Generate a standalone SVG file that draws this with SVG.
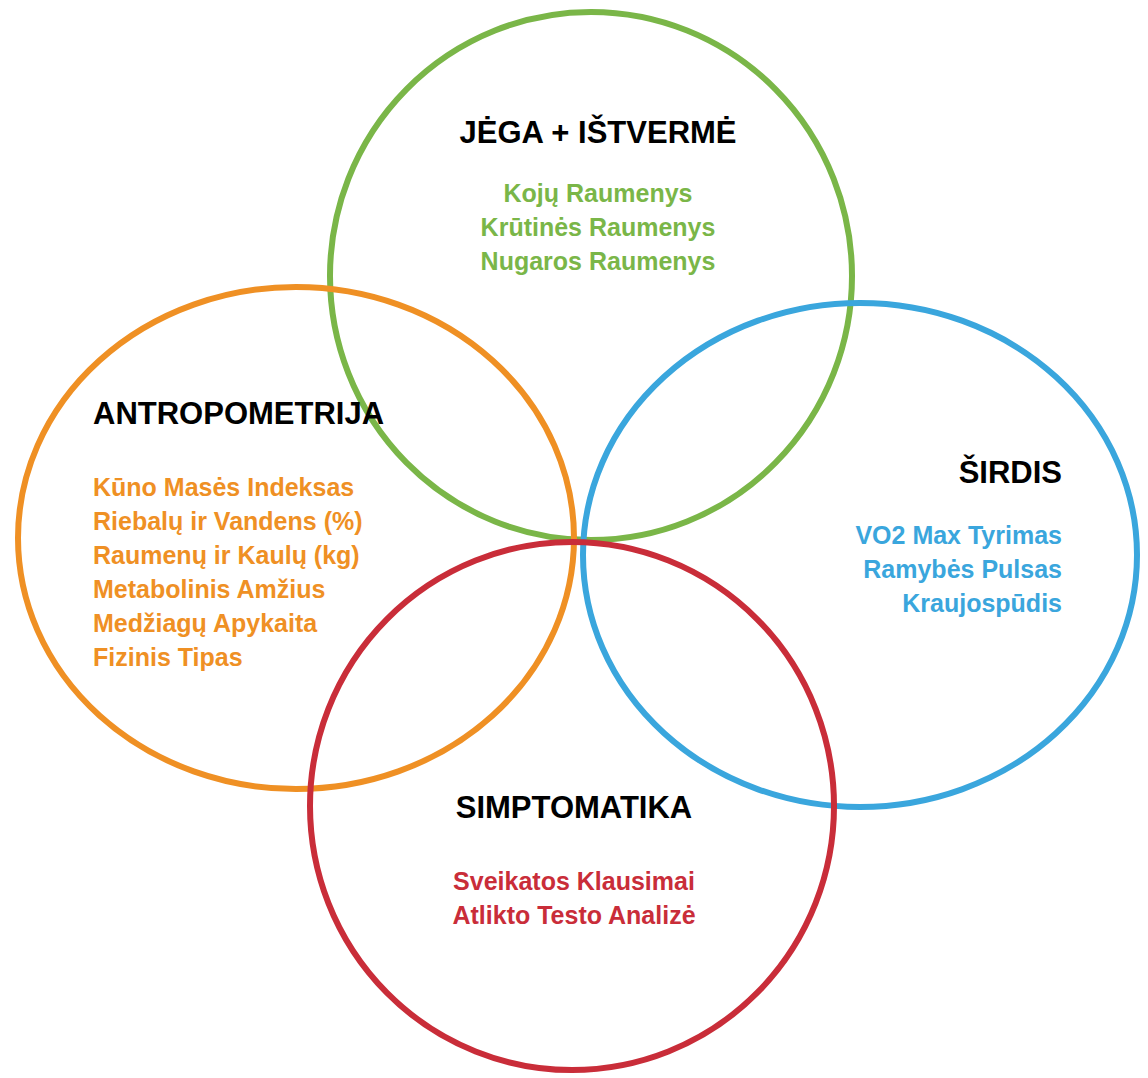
<svg xmlns="http://www.w3.org/2000/svg" width="1148" height="1078" viewBox="0 0 1148 1078">
<style>
.c{fill:none;stroke-width:6}
text{font-family:"Liberation Sans",Arial,sans-serif;font-weight:bold}
.t{font-size:31px;fill:#000}
.i{font-size:25px}
</style>
<rect width="1148" height="1078" fill="#fff"/>
<g id="jega"><ellipse class="c" cx="591" cy="276" rx="261" ry="264" stroke="#7ab648"/>
<text class="t" x="598" y="143" text-anchor="middle">JĖGA + IŠTVERMĖ</text>
<g class="i" fill="#7ab648" text-anchor="middle"><text x="598" y="202">Kojų Raumenys</text><text x="598" y="236">Krūtinės Raumenys</text><text x="598" y="270">Nugaros Raumenys</text></g></g>
<g id="antro"><ellipse class="c" cx="296" cy="538" rx="278" ry="251" stroke="#ef9024"/>
<text class="t" x="93" y="424">ANTROPOMETRIJA</text>
<g class="i" fill="#ef9024"><text x="93" y="496">Kūno Masės Indeksas</text><text x="93" y="530">Riebalų ir Vandens (%)</text><text x="93" y="564">Raumenų ir Kaulų (kg)</text><text x="93" y="598">Metabolinis Amžius</text><text x="93" y="632">Medžiagų Apykaita</text><text x="93" y="666">Fizinis Tipas</text></g></g>
<g id="sirdis"><ellipse class="c" cx="860" cy="555" rx="277" ry="252" stroke="#3aa6dd"/>
<text class="t" x="1062" y="483" text-anchor="end">ŠIRDIS</text>
<g class="i" fill="#3aa6dd" text-anchor="end"><text x="1062" y="544">VO2 Max Tyrimas</text><text x="1062" y="578">Ramybės Pulsas</text><text x="1062" y="612">Kraujospūdis</text></g></g>
<g id="simpt"><ellipse class="c" cx="572" cy="806" rx="262" ry="264" stroke="#c92d39"/>
<text class="t" x="574" y="818" text-anchor="middle">SIMPTOMATIKA</text>
<g class="i" fill="#c92d39" text-anchor="middle"><text x="574" y="890">Sveikatos Klausimai</text><text x="574" y="924">Atlikto Testo Analizė</text></g></g>
<g id="connectors"/>
</svg>
